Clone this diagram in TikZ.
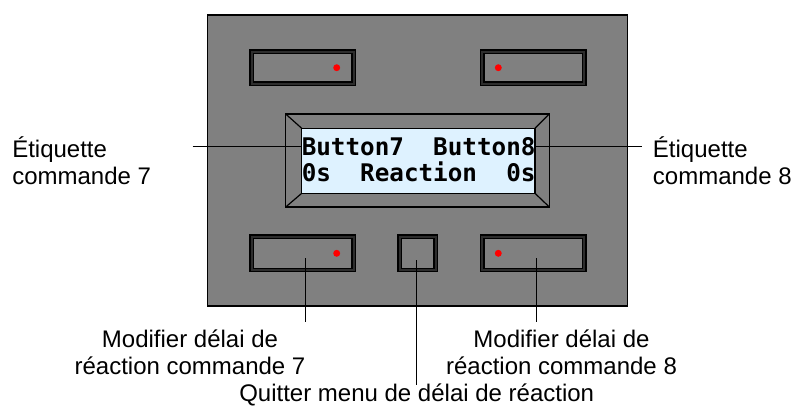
\documentclass[tikz,border=0pt]{standalone}
\usepackage{fontspec}
\setmainfont{Liberation Sans}
\newfontfamily\lcdfont{DejaVu Sans Mono}
\usetikzlibrary{calc}
\definecolor{panelgray}{RGB}{128,128,128}
\definecolor{btnband}{RGB}{45,45,45}
\definecolor{lcdbg}{RGB}{222,242,255}
\definecolor{dotred}{RGB}{255,0,0}
\tikzset{
  lbl/.style={font=\fontsize{18}{20.25}\selectfont, inner sep=0pt, align=left},
  lcdtext/.style={font=\lcdfont\bfseries\fontsize{18.2}{20}\selectfont, inner sep=0pt, anchor=base west},
  leader/.style={draw=black, line width=0.75pt},
  btnouter/.style={fill=btnband, draw=black, line width=0.8pt},
  btninner/.style={fill=panelgray, draw=black, line width=0.8pt},
  reddot/.style={fill=dotred},
  panelbox/.style={fill=panelgray, draw=black, line width=1.1pt},
  bezel/.style={fill=panelgray, draw=black, line width=0.9pt},
  screen/.style={fill=lcdbg, draw=black, line width=1pt},
}
\newcommand\devbtn[4]{%
  \filldraw[btnouter] (#1,#2) rectangle (#3,#4);
  \filldraw[btninner] ($(#1,#2)+(3.3,3.3)$) rectangle ($(#3,#4)+(-3.3,-3.3)$);}
\begin{document}
\begin{tikzpicture}[x=0.75pt,y=-0.75pt]
\useasboundingbox (0,0) rectangle (792,412);
\fill[white] (0,0) rectangle (792,412);
% panel
\filldraw[panelbox] (207.5,15) rectangle (627.5,306);
% buttons
\devbtn{250}{50}{355.3}{85.3}
\devbtn{480.7}{50}{586}{85.3}
\devbtn{250}{235}{355.3}{271.7}
\devbtn{398}{235}{437.3}{271.7}
\devbtn{480.7}{235}{586}{271.7}
\fill[reddot] (336.7,67.7) circle[radius=2.6pt];
\fill[reddot] (498.3,67.7) circle[radius=2.6pt];
\fill[reddot] (336.7,253.3) circle[radius=2.6pt];
\fill[reddot] (498.3,253.3) circle[radius=2.6pt];
% LCD
\filldraw[bezel] (285.7,114) rectangle (549.3,207);
\draw[line width=0.9pt] (285.7,114) -- (301.7,128.3);
\draw[line width=0.9pt] (549.3,114) -- (535,128.3);
\draw[line width=0.9pt] (285.7,207) -- (301.7,193.3);
\draw[line width=0.9pt] (549.3,207) -- (535,193.3);
\filldraw[screen] (301.7,128.3) rectangle (535,193.3);
\node[lcdtext] (lcd1) at (301.5,155) {Button7\ \ Button8};
\node[lcdtext] (lcd2) at (301.5,181.7) {0s\ \ Reaction\ \ 0s};
% leader coordinates
\coordinate (lcdL) at (301.7,146);
\coordinate (lcdR) at (535,146.5);
\coordinate (endL) at (192.7,146);
\coordinate (endR) at (641.7,146.5);
\coordinate (btnBL) at (305,258);
\coordinate (btnM) at (416.7,260);
\coordinate (btnBR) at (536.7,258);
\coordinate (endBL) at (305,322);
\coordinate (endM) at (416.7,385);
\coordinate (endBR) at (536.7,322);
\draw[leader] (endL) -- (lcdL);
\draw[leader] (lcdR) -- (endR);
\draw[leader] (btnBL) -- (endBL);
\draw[leader] (btnM) -- (endM);
\draw[leader] (btnBR) -- (endBR);
% labels (base anchor = baseline of last line)
\node[lbl, anchor=base west] (labL) at (12,184) {Étiquette\\commande 7};
\node[lbl, anchor=base west] (labR) at (652.7,184) {Étiquette\\commande 8};
\node[lbl, align=center, anchor=base] (labBL) at (190,374) {Modifier délai de\\réaction commande 7};
\node[lbl, align=center, anchor=base] (labBR) at (561.5,374) {Modifier délai de\\réaction commande 8};
\node[lbl, anchor=base] (labM) at (416.7,401) {Quitter menu de délai de réaction};
\end{tikzpicture}
\end{document}
